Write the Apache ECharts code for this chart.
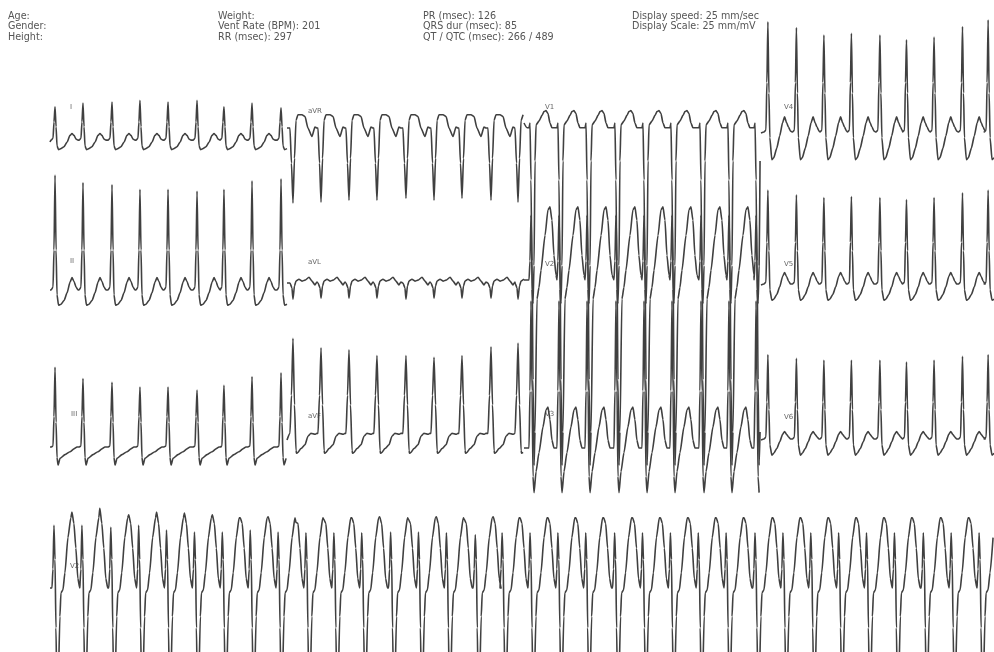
<!DOCTYPE html>
<html>
<head>
<meta charset="utf-8">
<script src="https://cdn.jsdelivr.net/npm/echarts@6/dist/echarts.min.js"></script>
<style>
html,body{margin:0;padding:0;background:#ffffff;}
#chart{width:994px;height:652px;}
</style>
</head>
<body>
<div id="chart"></div>
<script>
// ---------------- header texts ----------------
const headerCol1 = ["Age:", "Gender:", "Height:"];
const headerCol2 = ["Weight:", "Vent Rate (BPM): 201", "RR (msec): 297"];
const headerCol3 = ["PR (msec): 126", "QRS dur (msec): 85", "QT / QTC (msec): 266 / 489"];
const headerCol4 = ["Display speed: 25 mm/sec", "Display Scale: 25 mm/mV"];

// ---------------- lead names ----------------
const leadNames = ["I", "II", "III", "aVR", "aVL", "aVF", "V1", "V2", "V3", "V4", "V5", "V6"];
const rhythmName = "V2";

// ---------------- beat times (ms from start of each 2.5 s column) ----------------
const beatsCol1 = [53, 348, 654, 949, 1245, 1551, 1835, 2131, 2437];
const beatsCol2 = [63, 359, 654, 949, 1255, 1551, 1846, 2152, 2437];
const beatsCol3 = [74, 369, 665, 970, 1266, 1561, 1867, 2162, 2448];
const beatsCol4 = [74, 380, 675, 970, 1276, 1561, 1857, 2162, 2437];
const beatsRhythm = [42, 338, 644, 939, 1234, 1530, 1825, 2121, 2416, 2711, 3007, 3302, 3608,
  3903, 4199, 4505, 4789, 5085, 5380, 5675, 5981, 6276, 6572, 6867, 7162, 7468, 7764,
  8059, 8354, 8649, 8945, 9251, 9546, 9842];

// ---------------- per-lead beat templates (ms offset from R, mV) ----------------
// 'R' = per-beat main deflection, 'T' = per-beat T-wave peak
const tplI_t = [-42, -21, -11, 0, 11, 21, 37, 63, 95, 127, 158, 179, 200, 222, 243];
const tplI_v = [0.02, 0.04, 0.21, 'R', 0.16, -0.04, -0.08, -0.07, -0.05, 0.0, 0.07, 0.09, 0.07, 0.03, 0.02];
const ampI = [0.37, 0.41, 0.42, 0.44, 0.42, 0.44, 0.37, 0.41, 0.36];

const tplII_t = [-42, -21, -11, 0, 11, 21, 37, 63, 95, 127, 158, 179, 200, 222, 243];
const tplII_v = [0.0, 0.03, 0.42, 'R', 0.42, -0.05, -0.16, -0.15, -0.11, -0.03, 0.08, 0.13, 0.09, 0.03, 0.0];
const ampII = [1.21, 1.13, 1.11, 1.06, 1.06, 1.04, 1.06, 1.15, 1.17];

const tplIII_t = [-42, -21, -11, 0, 11, 21, 32, 53, 105, 158, 200, 232, 253];
const tplIII_v = [0.0, 0.01, 0.32, 'R', 0.26, -0.11, -0.19, -0.12, -0.08, -0.05, -0.02, 0.0, 0.0];
const ampIII = [0.84, 0.72, 0.68, 0.63, 0.63, 0.60, 0.65, 0.74, 0.78];

const tplaVR_t = [-32, -16, 0, 16, 32, 53, 95, 127, 158, 200, 232, 253];
const tplaVR_v = [0.0, -0.37, 'R', -0.32, 0.08, 0.14, 0.14, 0.12, 0.0, -0.09, 0.01, 0.0];
const ampaVR = [-0.79, -0.78, -0.76, -0.76, -0.74, -0.76, -0.74, -0.76, -0.78];

const tplaVL_t = [-32, -11, 0, 16, 32, 63, 95, 127, 169, 200, 232, 253];
const tplaVL_v = [0.0, -0.05, 'R', -0.03, 0.02, 0.04, 0.02, 0.03, 0.06, 0.02, -0.02, 0.01];
const ampaVL = [-0.17, -0.16, -0.16, -0.16, -0.17, -0.16, -0.16, -0.16, -0.17];

const tplaVF_t = [-32, -16, 0, 16, 32, 37, 53, 84, 127, 158, 190, 232, 253];
const tplaVF_v = [0.07, 0.47, 'R', 0.37, -0.11, -0.14, -0.13, -0.09, -0.05, 0.04, 0.07, 0.06, 0.07];
const ampaVF = [1.07, 0.97, 0.95, 0.89, 0.89, 0.87, 0.89, 0.98, 1.02];

const tplV1_t = [-42, -21, -11, 0, 11, 21, 32, 42, 53, 84, 116, 137, 158, 179, 200, 221, 243];
const tplV1_v = [-0.05, -0.05, 0.0, -0.6, -1.75, 'R', -1.5, -0.4, -0.02, 0.02, 0.08, 0.12, 0.13, 0.10, 0.0, -0.05, -0.05];
const ampV1 = [-1.9, -1.9, -1.9, -1.9, -1.9, -1.9, -1.9, -1.9, -1.9];

const tplV2_t = [-21, -11, 0, 11, 21, 32, 42, 63, 84, 105, 148, 179, 200, 221, 242, 264];
const tplV2_v = [0.0, 0.2, 'R', 0.2, -1.05, -1.95, -1.6, -0.2, -0.08, 0.1, 0.47, 0.74, 0.77, 0.63, 0.26, 0.05];
const ampV2 = [0.68, 0.68, 0.68, 0.68, 0.68, 0.68, 0.68, 0.68, 0.68];

const tplV3_t = [-21, -11, 0, 11, 21, 32, 53, 84, 126, 158, 179, 200, 221, 242];
const tplV3_v = [0.0, 0.6, 'R', 0.6, -0.3, -0.47, -0.25, -0.05, 0.22, 0.40, 0.43, 0.30, 0.08, 0.0];
const ampV3 = [1.55, 1.55, 1.55, 1.55, 1.55, 1.55, 1.55, 1.55, 1.55];

const tplV4_t = [-42, -21, -11, 0, 11, 21, 42, 63, 95, 127, 158, 179, 200, 222, 243];
const tplV4_v = [0.01, 0.03, 0.53, 'R', 0.42, -0.05, -0.28, -0.26, -0.16, -0.03, 0.11, 0.17, 0.11, 0.06, 0.02];
const ampV4 = [1.17, 1.11, 1.03, 1.05, 1.03, 0.98, 1.01, 1.12, 1.19];

const tplV5_t = [-42, -21, -11, 0, 11, 21, 42, 63, 95, 127, 158, 179, 200, 222, 243];
const tplV5_v = [0.01, 0.03, 0.45, 'R', 0.36, -0.05, -0.16, -0.15, -0.10, -0.02, 0.09, 0.13, 0.09, 0.04, 0.01];
const ampV5 = [1.0, 0.95, 0.92, 0.93, 0.92, 0.90, 0.92, 0.97, 1.0];

const tplV6_t = [-42, -21, -11, 0, 11, 21, 42, 63, 95, 127, 158, 179, 200, 222, 243];
const tplV6_v = [0.01, 0.03, 0.40, 'R', 0.32, -0.05, -0.16, -0.14, -0.09, -0.02, 0.06, 0.09, 0.06, 0.03, 0.01];
const ampV6 = [0.9, 0.86, 0.84, 0.84, 0.84, 0.82, 0.84, 0.88, 0.9];

const tplRh_t = [-21, -11, 0, 11, 21, 32, 42, 63, 74, 95, 116, 148, 179, 190, 211, 232, 253, 274];
const tplRh_v = [0.0, 0.2, 'R', 0.3, -0.42, -1.15, -1.15, -0.3, -0.05, -0.02, 0.16, 0.53, 0.74, 'T', 0.68, 0.42, 0.1, 0.0];
const ampRh = [0.66, 0.66, 0.64, 0.66, 0.61, 0.59, 0.59, 0.61, 0.59, 0.58, 0.58, 0.58, 0.59,
  0.59, 0.58, 0.56, 0.58, 0.58, 0.58, 0.58, 0.58, 0.58, 0.58, 0.58, 0.58, 0.58, 0.58,
  0.58, 0.58, 0.58, 0.58, 0.58, 0.58, 0.58];
const tRh = [0.80, 0.84, 0.77, 0.80, 0.79, 0.77, 0.74, 0.75, 0.69, 0.72, 0.74, 0.75, 0.72,
  0.75, 0.72, 0.75, 0.74, 0.74, 0.74, 0.74, 0.74, 0.74, 0.74, 0.74, 0.74, 0.74, 0.74,
  0.74, 0.74, 0.74, 0.74, 0.74, 0.74, 0.74];

// ---------------- layout ----------------
const PX_PER_MV = 95;
const COL_LEFT = [50, 287, 524, 761];
const COL_W = 237;
const COL_MS = 2500;

function buildTrace(beats, tplT, tplV, amp, tAmp, span) {
  const pts = [[0, 0]];
  beats.forEach((b, i) => {
    tplT.forEach((dt, j) => {
      const t = b + dt;
      if (t <= 0 || t > span) return;
      let v = tplV[j];
      if (v === 'R') v = amp[i];
      else if (v === 'T') v = tAmp[i];
      pts.push([t, v]);
    });
  });
  return pts;
}

const leads = [
  {name: "I", col: 0, base: 142, beats: beatsCol1, t: tplI_t, v: tplI_v, a: ampI, lx: 70, ly: 104},
  {name: "II", col: 0, base: 290, beats: beatsCol1, t: tplII_t, v: tplII_v, a: ampII, lx: 70, ly: 258},
  {name: "III", col: 0, base: 447, beats: beatsCol1, t: tplIII_t, v: tplIII_v, a: ampIII, lx: 71, ly: 411},
  {name: "aVR", col: 1, base: 128, beats: beatsCol2, t: tplaVR_t, v: tplaVR_v, a: ampaVR, lx: 308, ly: 108},
  {name: "aVL", col: 1, base: 283, beats: beatsCol2, t: tplaVL_t, v: tplaVL_v, a: ampaVL, lx: 308, ly: 259},
  {name: "aVF", col: 1, base: 440, beats: beatsCol2, t: tplaVF_t, v: tplaVF_v, a: ampaVF, lx: 308, ly: 413},
  {name: "V1", col: 2, base: 123, beats: beatsCol3, t: tplV1_t, v: tplV1_v, a: ampV1, lx: 545, ly: 104},
  {name: "V2", col: 2, base: 280, beats: beatsCol3, t: tplV2_t, v: tplV2_v, a: ampV2, lx: 545, ly: 261},
  {name: "V3", col: 2, base: 448, beats: beatsCol3, t: tplV3_t, v: tplV3_v, a: ampV3, lx: 545, ly: 411},
  {name: "V4", col: 3, base: 133, beats: beatsCol4, t: tplV4_t, v: tplV4_v, a: ampV4, lx: 784, ly: 104},
  {name: "V5", col: 3, base: 285, beats: beatsCol4, t: tplV5_t, v: tplV5_v, a: ampV5, lx: 784, ly: 261},
  {name: "V6", col: 3, base: 440, beats: beatsCol4, t: tplV6_t, v: tplV6_v, a: ampV6, lx: 784, ly: 414}
];

const grids = [], xAxes = [], yAxes = [], series = [], graphics = [];
const LINE = {color: '#404040', width: 1.6};

function addTrace(left, width, span, base, data) {
  const idx = grids.length;
  grids.push({left: left, top: base - PX_PER_MV / 2, width: width, height: PX_PER_MV, containLabel: false});
  xAxes.push({type: 'value', gridIndex: idx, min: 0, max: span, show: false});
  yAxes.push({type: 'value', gridIndex: idx, min: -0.5, max: 0.5, show: false});
  series.push({
    type: 'line', xAxisIndex: idx, yAxisIndex: idx, data: data,
    showSymbol: false, clip: false, smooth: 0.2, smoothMonotone: 'x',
    lineStyle: LINE, animation: false, silent: true
  });
}

leads.forEach(L => {
  addTrace(COL_LEFT[L.col], COL_W, COL_MS, L.base, buildTrace(L.beats, L.t, L.v, L.a, null, COL_MS));
  graphics.push({type: 'text', left: L.lx, top: L.ly, silent: true,
    style: {text: L.name, fill: '#666', font: '7px "DejaVu Sans"'}});
});

addTrace(50, 948, 10000, 588, buildTrace(beatsRhythm, tplRh_t, tplRh_v, ampRh, tRh, 10000));
graphics.push({type: 'text', left: 70, top: 563, silent: true,
  style: {text: rhythmName, fill: '#666', font: '7px "DejaVu Sans"'}});

// header
const headerCols = [[8, headerCol1], [218, headerCol2], [423, headerCol3], [632, headerCol4]];
headerCols.forEach(([x, lines]) => {
  lines.forEach((s, i) => {
    graphics.push({type: 'text', left: x, top: 11 + i * 10.5, silent: true,
      style: {text: s, fill: '#555', font: '9.6px "DejaVu Sans"'}});
  });
});

const chart = echarts.init(document.getElementById('chart'), null, {renderer: 'canvas'});
chart.setOption({
  backgroundColor: '#ffffff',
  animation: false,
  grid: grids,
  xAxis: xAxes,
  yAxis: yAxes,
  series: series,
  graphic: graphics
});
</script>
</body>
</html>
